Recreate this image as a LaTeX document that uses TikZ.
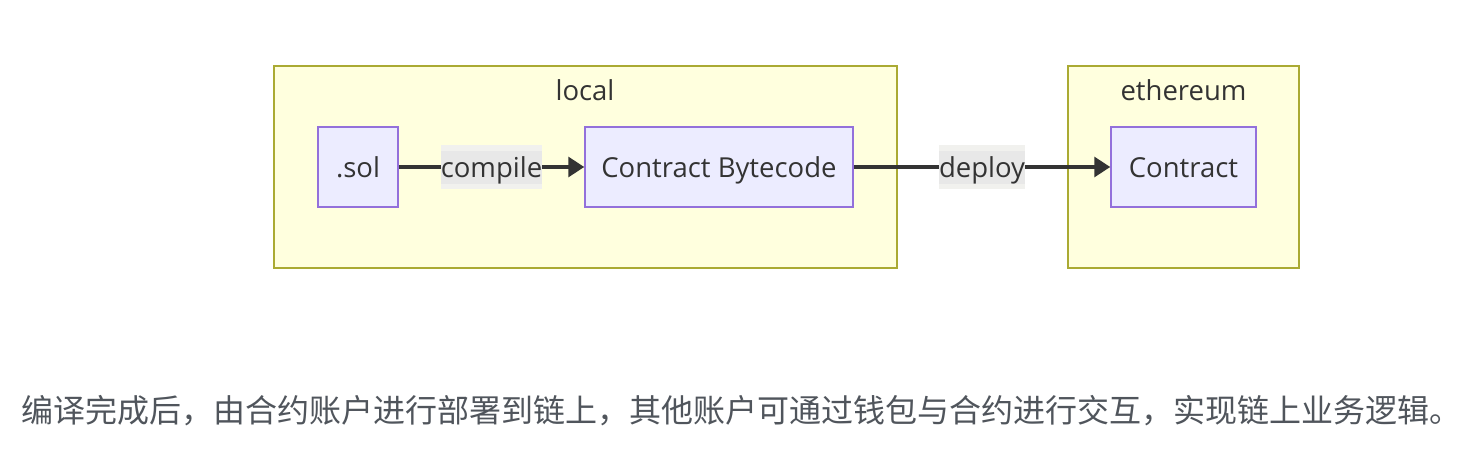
\documentclass[tikz,border=0pt]{standalone}
\usepackage{fontspec}
\setmainfont{Open Sans}
\newfontfamily\cjk{Noto Sans CJK SC}
\usetikzlibrary{positioning, calc, arrows.meta}
\definecolor{clusterfill}{HTML}{FFFFDE}
\definecolor{clusterline}{HTML}{AAAA33}
\definecolor{nodefill}{HTML}{ECECFF}
\definecolor{nodeline}{HTML}{9370DB}
\definecolor{edgecol}{HTML}{333333}
\definecolor{labelouter}{HTML}{F1F1EE}
\definecolor{labelinner}{HTML}{E8E8E8}
\definecolor{notecol}{HTML}{50555C}
\tikzset{
    cluster/.style={draw=clusterline, fill=clusterfill, line width=1.5pt},
    cluslabel/.style={text=edgecol, font=\fontsize{27.5}{30}\selectfont},
    box/.style={draw=nodeline, fill=nodefill, line width=1.5pt, minimum height=80pt,
        text=edgecol, font=\fontsize{27.5}{30}\selectfont, inner sep=0pt,
        text height=23pt, text depth=3pt},
    flow/.style={draw=edgecol, line width=3.2pt, -{Triangle[length=16pt,width=20pt]}},
    elabel/.style={fill=labelouter, minimum height=44pt, inner sep=0pt, text=edgecol,
        font=\fontsize{27.5}{30}\selectfont, text height=23pt, text depth=3pt,
        path picture={\fill[labelinner] ($(path picture bounding box.west)+(0,-16.5)$)
            rectangle ($(path picture bounding box.east)+(0,16.5)$);}}
}

\begin{document}
\begin{tikzpicture}[x=1pt, y=-1pt]
    \fill[white] (0,0) rectangle (1476,460);
    \useasboundingbox (0,0) rectangle (1476,460);
    % subgraphs
    \draw[cluster] (274,66) rectangle (897,268);
    \node[cluslabel] (localtitle) at (585,90) {local};
    \draw[cluster] (1068,66) rectangle (1299,268);
    \node[cluslabel] (ethtitle) at (1183.5,90) {ethereum};
    % nodes
    \node[box, minimum width=80pt] (sol) at (358,167) {.sol};
    \node[box, minimum width=268pt] (bytecode) at (719,167) {Contract Bytecode};
    \node[box, minimum width=145pt] (contract) at (1183.5,167) {Contract};
    % edges
    \draw[flow] (sol) -- node[elabel, minimum width=99pt] (compile) {compile} (bytecode);
    \draw[flow] (bytecode) -- node[elabel, minimum width=83pt] (deploy) {deploy} (contract);
    % caption
    \node[anchor=base west, inner sep=0pt, text=notecol, font=\cjk\fontsize{32}{36}\selectfont] (note) at (21,422)
        {编译完成后，由合约账户进行部署到链上，其他账户可通过钱包与合约进行交互，实现链上业务逻辑。};
\end{tikzpicture}
\end{document}
